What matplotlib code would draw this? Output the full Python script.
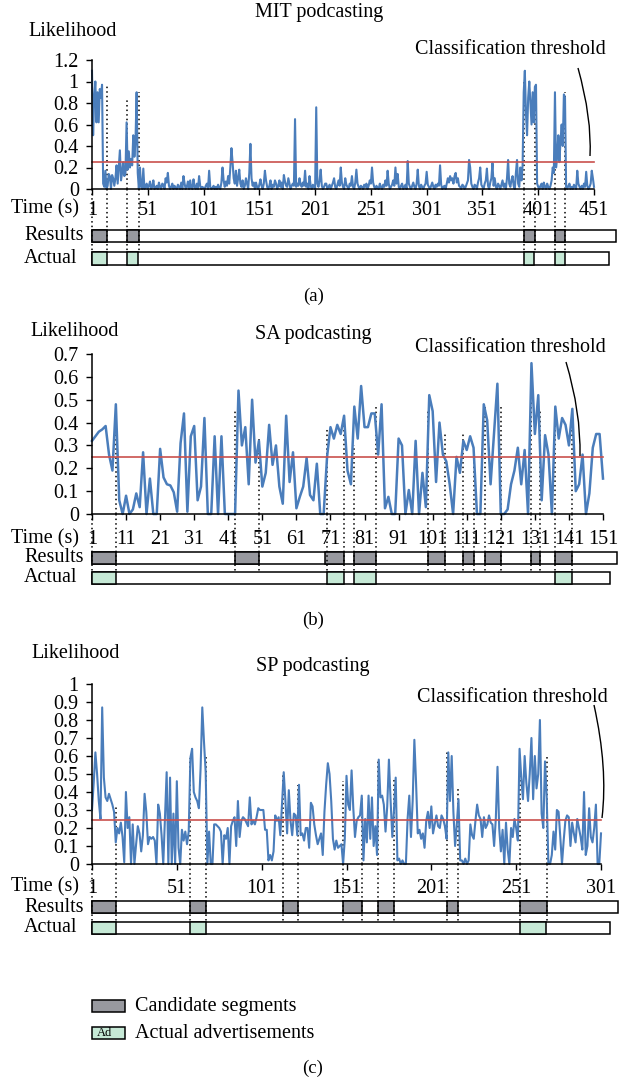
import matplotlib
matplotlib.use("Agg")
import matplotlib.pyplot as plt
from matplotlib.patches import Rectangle, PathPatch
from matplotlib.path import Path

# ------------------------------------------------------------------ data
mit_likelihood = [
    1.10, 0.50, 0.85, 1.00, 0.62, 0.90, 0.62, 0.93, 0.85, 0.97,
    0.05, 0.02, 0.17, 0.00, 0.03, 0.14, 0.12, 0.00, 0.13, 0.10,
    0.03, 0.10, 0.22, 0.05, 0.20, 0.36, 0.08, 0.15, 0.25, 0.12,
    0.15, 0.62, 0.18, 0.35, 0.20, 0.28, 0.22, 0.50, 0.30, 0.45,
    0.90, 0.15, 0.00, 0.20, 0.02, 0.00, 0.19, 0.00, 0.02, 0.05,
    0.00, 0.03, 0.07, 0.00, 0.02, 0.08, 0.00, 0.01, 0.03, 0.00,
    0.06, 0.02, 0.00, 0.05, 0.04, 0.00, 0.10, 0.06, 0.15, 0.03,
    0.00, 0.02, 0.05, 0.00, 0.03, 0.01, 0.00, 0.04, 0.02, 0.00,
    0.06, 0.00, 0.12, 0.05, 0.00, 0.02, 0.07, 0.00, 0.08, 0.01,
    0.00, 0.09, 0.02, 0.00, 0.05, 0.00, 0.12, 0.03, 0.00, 0.02,
    0.01, 0.00, 0.03, 0.05, 0.00, 0.17, 0.02, 0.00, 0.01, 0.03,
    0.00, 0.02, 0.00, 0.04, 0.01, 0.00, 0.06, 0.20, 0.08, 0.02,
    0.07, 0.03, 0.12, 0.05, 0.20, 0.38, 0.25, 0.10, 0.05, 0.17,
    0.03, 0.10, 0.18, 0.05, 0.02, 0.08, 0.00, 0.03, 0.10, 0.05,
    0.00, 0.15, 0.42, 0.10, 0.03, 0.06, 0.00, 0.06, 0.02, 0.00,
    0.04, 0.09, 0.03, 0.00, 0.05, 0.17, 0.08, 0.02, 0.00, 0.03,
    0.08, 0.00, 0.04, 0.02, 0.08, 0.05, 0.00, 0.03, 0.08, 0.02,
    0.06, 0.00, 0.13, 0.07, 0.03, 0.02, 0.10, 0.05, 0.00, 0.03,
    0.05, 0.03, 0.65, 0.02, 0.05, 0.03, 0.10, 0.04, 0.02, 0.06,
    0.03, 0.17, 0.02, 0.05, 0.00, 0.12, 0.03, 0.00, 0.04, 0.02,
    0.00, 0.76, 0.05, 0.02, 0.08, 0.18, 0.03, 0.00, 0.02, 0.05,
    0.05, 0.00, 0.02, 0.04, 0.00, 0.03, 0.06, 0.10, 0.02, 0.00,
    0.04, 0.08, 0.03, 0.20, 0.06, 0.02, 0.00, 0.10, 0.04, 0.02,
    0.00, 0.05, 0.03, 0.12, 0.02, 0.00, 0.06, 0.18, 0.05, 0.02,
    0.00, 0.03, 0.02, 0.00, 0.04, 0.02, 0.05, 0.00, 0.03, 0.08,
    0.05, 0.20, 0.06, 0.02, 0.00, 0.03, 0.01, 0.00, 0.05, 0.02,
    0.00, 0.04, 0.02, 0.08, 0.03, 0.17, 0.05, 0.00, 0.02, 0.04,
    0.08, 0.03, 0.20, 0.05, 0.14, 0.02, 0.00, 0.03, 0.05, 0.00,
    0.02, 0.04, 0.00, 0.26, 0.05, 0.02, 0.00, 0.03, 0.06, 0.02,
    0.00, 0.05, 0.18, 0.03, 0.00, 0.04, 0.02, 0.00, 0.03, 0.05,
    0.16, 0.04, 0.02, 0.00, 0.03, 0.06, 0.02, 0.00, 0.04, 0.02,
    0.05, 0.03, 0.22, 0.04, 0.00, 0.02, 0.03, 0.00, 0.05, 0.10,
    0.06, 0.12, 0.08, 0.10, 0.05, 0.12, 0.15, 0.06, 0.10, 0.03,
    0.02, 0.00, 0.04, 0.03, 0.00, 0.02, 0.05, 0.08, 0.27, 0.20,
    0.05, 0.02, 0.00, 0.04, 0.03, 0.00, 0.06, 0.10, 0.20, 0.04,
    0.02, 0.00, 0.05, 0.08, 0.19, 0.03, 0.00, 0.06, 0.10, 0.24,
    0.03, 0.10, 0.02, 0.00, 0.05, 0.03, 0.00, 0.04, 0.08, 0.02,
    0.05, 0.00, 0.10, 0.27, 0.05, 0.02, 0.08, 0.12, 0.03, 0.00,
    0.15, 0.27, 0.05, 0.02, 0.20, 0.08, 0.22, 0.90, 1.10, 0.70,
    0.50, 0.85, 1.00, 0.80, 0.60, 0.90, 0.62, 0.95, 0.97, 0.05,
    0.02, 0.00, 0.03, 0.05, 0.00, 0.06, 0.02, 0.00, 0.05, 0.02,
    0.00, 0.03, 0.08, 0.20, 0.15, 0.90, 0.20, 0.30, 0.50, 0.25,
    0.45, 0.60, 0.40, 0.88, 0.85, 0.02, 0.00, 0.03, 0.05, 0.00,
    0.02, 0.00, 0.04, 0.02, 0.00, 0.17, 0.05, 0.02, 0.00, 0.03,
    0.00, 0.05, 0.02, 0.16, 0.03, 0.00, 0.02, 0.05, 0.17, 0.10,
    0.02,
]
sa_likelihood = [
    0.32, 0.34, 0.36, 0.37, 0.385, 0.26, 0.19, 0.48, 0.06, 0.00,
    0.08, 0.00, 0.02, 0.09, 0.03, 0.27, 0.00, 0.155, 0.00, 0.00,
    0.285, 0.16, 0.13, 0.125, 0.095, 0.01, 0.31, 0.44, 0.01, 0.34,
    0.385, 0.06, 0.12, 0.42, 0.00, 0.00, 0.34, 0.00, 0.34, 0.00,
    0.00, 0.00, 0.00, 0.54, 0.30, 0.38, 0.13, 0.50, 0.225, 0.32,
    0.12, 0.18, 0.39, 0.215, 0.30, 0.12, 0.045, 0.43, 0.14, 0.27,
    0.025, 0.075, 0.12, 0.245, 0.083, 0.06, 0.22, 0.00, 0.00, 0.25,
    0.38, 0.33, 0.39, 0.35, 0.43, 0.19, 0.13, 0.47, 0.33, 0.56,
    0.38, 0.38, 0.44, 0.44, 0.26, 0.48, 0.025, 0.075, 0.00, 0.00,
    0.33, 0.30, 0.00, 0.105, 0.00, 0.32, 0.00, 0.18, 0.03, 0.52,
    0.45, 0.14, 0.40, 0.26, 0.23, 0.13, 0.00, 0.25, 0.18, 0.32,
    0.28, 0.34, 0.29, 0.00, 0.00, 0.48, 0.41, 0.13, 0.35, 0.57,
    0.00, 0.00, 0.02, 0.13, 0.19, 0.29, 0.13, 0.28, 0.00, 0.66,
    0.35, 0.52, 0.06, 0.345, 0.26, 0.00, 0.47, 0.33, 0.42, 0.39,
    0.30, 0.46, 0.10, 0.13, 0.26, 0.00, 0.09, 0.29, 0.35, 0.35,
    0.155,
]
sp_likelihood = [
    0.30, 0.45, 0.62, 0.50, 0.35, 0.25, 0.87, 0.48, 0.37, 0.35,
    0.39, 0.36, 0.33, 0.29, 0.12, 0.20, 0.17, 0.23, 0.15, 0.01,
    0.40, 0.20, 0.26, 0.00, 0.22, 0.00, 0.11, 0.21, 0.17, 0.07,
    0.16, 0.39, 0.29, 0.11, 0.15, 0.14, 0.15, 0.13, 0.00, 0.33,
    0.28, 0.16, 0.00, 0.26, 0.51, 0.00, 0.48, 0.00, 0.28, 0.00,
    0.46, 0.09, 0.00, 0.19, 0.13, 0.18, 0.11, 0.18, 0.59, 0.64,
    0.40, 0.37, 0.35, 0.31, 0.53, 0.87, 0.68, 0.51, 0.00, 0.18,
    0.00, 0.00, 0.22, 0.22, 0.21, 0.20, 0.18, 0.00, 0.16, 0.14,
    0.20, 0.00, 0.21, 0.24, 0.26, 0.10, 0.35, 0.15, 0.24, 0.26,
    0.25, 0.23, 0.21, 0.37, 0.22, 0.24, 0.22, 0.26, 0.31, 0.30,
    0.30, 0.30, 0.19, 0.19, 0.02, 0.05, 0.02, 0.07, 0.27, 0.24,
    0.26, 0.16, 0.33, 0.51, 0.35, 0.17, 0.41, 0.24, 0.16, 0.28,
    0.27, 0.16, 0.44, 0.16, 0.17, 0.13, 0.20, 0.20, 0.09, 0.34,
    0.32, 0.22, 0.16, 0.11, 0.14, 0.17, 0.05, 0.29, 0.44, 0.56,
    0.50, 0.35, 0.14, 0.08, 0.13, 0.09, 0.10, 0.11, 0.00, 0.14,
    0.49, 0.33, 0.30, 0.52, 0.31, 0.15, 0.24, 0.26, 0.27, 0.38,
    0.02, 0.25, 0.12, 0.38, 0.14, 0.37, 0.10, 0.21, 0.05, 0.58,
    0.37, 0.38, 0.33, 0.18, 0.32, 0.58, 0.35, 0.15, 0.30, 0.48,
    0.02, 0.03, 0.00, 0.02, 0.00, 0.00, 0.25, 0.38, 0.15, 0.35,
    0.69, 0.45, 0.17, 0.19, 0.14, 0.17, 0.09, 0.24, 0.29, 0.20,
    0.32, 0.17, 0.22, 0.27, 0.21, 0.20, 0.27, 0.25, 0.21, 0.14,
    0.62, 0.35, 0.60, 0.29, 0.10, 0.22, 0.36, 0.02, 0.02, 0.00,
    0.03, 0.00, 0.02, 0.22, 0.16, 0.14, 0.24, 0.33, 0.27, 0.25,
    0.15, 0.26, 0.20, 0.22, 0.27, 0.23, 0.22, 0.10, 0.25, 0.54,
    0.20, 0.07, 0.19, 0.00, 0.23, 0.08, 0.00, 0.20, 0.15, 0.25,
    0.20, 0.13, 0.64, 0.48, 0.36, 0.60, 0.45, 0.35, 0.50, 0.70,
    0.36, 0.60, 0.42, 0.50, 0.80, 0.28, 0.20, 0.57, 0.37, 0.00,
    0.00, 0.05, 0.18, 0.08, 0.30, 0.29, 0.15, 0.00, 0.13, 0.24,
    0.27, 0.26, 0.10, 0.23, 0.17, 0.12, 0.25, 0.20, 0.15, 0.08,
    0.40, 0.05, 0.10, 0.31, 0.15, 0.12, 0.20, 0.33, 0.00, 0.00,
    0.17,
]

mit_threshold = 0.25
sa_threshold = 0.25
sp_threshold = 0.245

# candidate segments (Results) and actual advertisements, in seconds
mit_results = [(1, 14), (32, 43), (388, 398.5), (416, 425)]
mit_actual = [(1, 14), (32, 42.5), (388, 397), (416, 425)]
sa_results = [(1, 8), (43, 50), (69.5, 75), (78, 84.5), (99.5, 104.5),
              (110, 113), (116.5, 121), (130, 132.5), (137, 142)]
sa_actual = [(1, 8), (70, 75), (78, 84.5), (137, 142)]
sp_results = [(1, 15), (59, 68), (113.5, 122.5), (149, 160), (169.5, 179),
              (210.5, 217), (253, 269)]
sp_actual = [(1, 15), (59, 68), (253, 268.5)]

# dotted guide lines: time and the likelihood where they start
mit_guides = [1, 14, 32, 43, 388, 398.5, 416, 425]
mit_guide_tops = [0, 0.97, 0.85, 0.90, 1.0, 0.97, 0.90, 0.90]
sa_guides = [1, 8, 43, 50, 70, 75, 78, 84.5, 99.5, 104.5, 110, 113, 116.5,
             121, 130, 132.5, 137, 142]
sa_guide_tops = [0, 0.45, 0.46, 0.33, 0.38, 0.40, 0.30, 0.47, 0.46, 0.36,
                 0.35, 0.27, 0.47, 0.47, 0.49, 0.46, 0.45, 0.46]
sp_guides = [1, 15, 59, 68, 113.5, 122.5, 149, 160, 169.5, 179, 210.5, 217,
             253, 269]
sp_guide_tops = [0, 0.32, 0.59, 0.61, 0.50, 0.44, 0.46, 0.37, 0.58, 0.48,
                 0.63, 0.43, 0.60, 0.61]

mit_xticks = [1, 51, 101, 151, 201, 251, 301, 351, 401, 451]
sa_xticks = [1, 11, 21, 31, 41, 51, 61, 71, 81, 91, 101, 111, 121, 131, 141, 151]
sp_xticks = [1, 51, 101, 151, 201, 251, 301]
mit_yticks = [0, 0.2, 0.4, 0.6, 0.8, 1.0, 1.2]
mit_ylabels = ["0", "0.2", "0.4", "0.6", "0.8", "1", "1.2"]
sa_yticks = [0, 0.1, 0.2, 0.3, 0.4, 0.5, 0.6, 0.7]
sa_ylabels = ["0", "0.1", "0.2", "0.3", "0.4", "0.5", "0.6", "0.7"]
sp_yticks = [0, 0.1, 0.2, 0.3, 0.4, 0.5, 0.6, 0.7, 0.8, 0.9, 1.0]
sp_ylabels = ["0", "0.1", "0.2", "0.3", "0.4", "0.5", "0.6", "0.7", "0.8", "0.9", "1"]

titles = ["MIT podcasting", "SA podcasting", "SP podcasting"]
panel_tags = ["(a)", "(b)", "(c)"]
legend_labels = ["Candidate segments", "Actual advertisements"]

# ------------------------------------------------------------------ style
W, H = 629, 1080
plt.rcParams["font.family"] = ["Liberation Serif", "DejaVu Serif"]
FS = 14.5
BLUE = "#4a7dbb"
RED = "#c9504d"
GRAY = "#98999f"
GREEN = "#c6e9d6"

fig = plt.figure(figsize=(W / 100, H / 100), dpi=100)


def fx(px):
    return px / W


def fy(py):
    return 1 - py / H


def axes_px(l, t, r, b):
    return fig.add_axes([l / W, 1 - b / H, (r - l) / W, (b - t) / H])


layouts = [
    dict(L=92, R=594, T=60, B=189, ymax=1.2, lw=1.5, xpad=4.3,
         title=(319, 13), like=(28, 31), cls=(606, 50), tick_y=208,
         res=(230, 242), act=(252, 265), res_end=616, act_end=609,
         tag=(314, 296), curve=((578, 68), (592, 118), (590, 156))),
    dict(L=92, R=603, T=354, B=514, ymax=0.7, lw=1.8, xpad=7.7,
         title=(313, 335), like=(30, 332), cls=(606, 347), tick_y=538,
         res=(552, 564), act=(572, 584), res_end=617, act_end=610,
         tag=(313, 620), curve=((566, 362), (581, 412), (580, 456))),
    dict(L=92, R=601, T=684, B=864, ymax=1.0, lw=1.5, xpad=6.5,
         title=(313, 667), like=(31, 653), cls=(608, 698), tick_y=886,
         res=(901, 913), act=(922, 934), res_end=618, act_end=610,
         tag=(313, 1068), curve=((594, 705), (608, 768), (602, 818))),
]

series = [mit_likelihood, sa_likelihood, sp_likelihood]
thresholds = [mit_threshold, sa_threshold, sp_threshold]
results = [mit_results, sa_results, sp_results]
actuals = [mit_actual, sa_actual, sp_actual]
guides = [mit_guides, sa_guides, sp_guides]
guide_tops = [mit_guide_tops, sa_guide_tops, sp_guide_tops]
xticks = [mit_xticks, sa_xticks, sp_xticks]
yticks = [mit_yticks, sa_yticks, sp_yticks]
ylabels = [mit_ylabels, sa_ylabels, sp_ylabels]

for i, lay in enumerate(layouts):
    vals = series[i]
    times = list(range(1, len(vals) + 1))
    x0, x1 = 1, len(vals)
    ax = axes_px(lay["L"], lay["T"], lay["R"], lay["B"])
    ax.set_xlim(x0, x1)
    ax.set_ylim(0, lay["ymax"])
    ax.patch.set_alpha(0)
    ax.plot(times, vals, color=BLUE, lw=lay["lw"], clip_on=False, zorder=3,
            solid_joinstyle="round")
    ax.plot([x0, x1], [thresholds[i]] * 2, color=RED, lw=1.2, zorder=4,
            clip_on=False)
    ax.vlines(guides[i], 0, guide_tops[i], colors="black", linestyles=(0, (1, 2)),
              lw=1.1, zorder=2, clip_on=False)
    for s in ("top", "right"):
        ax.spines[s].set_visible(False)
    for s in ("left", "bottom"):
        ax.spines[s].set_linewidth(1.1)
        ax.spines[s].set_zorder(5)
    ax.set_yticks(yticks[i])
    ax.set_yticklabels(ylabels[i], fontsize=FS)
    ax.set_xticks(xticks[i])
    ax.set_xticklabels([str(t) for t in xticks[i]], fontsize=FS)
    ax.tick_params(axis="y", direction="out", length=4, width=1, pad=5.5)
    ax.tick_params(axis="x", direction="out", length=4, width=1, pad=lay["xpad"])

    # bar strip below the chart (y measured in pixels, downwards)
    bx = axes_px(lay["L"], lay["B"], lay["R"], lay["act"][1])
    bx.set_xlim(x0, x1)
    bx.set_ylim(lay["act"][1], lay["B"])
    bx.axis("off")

    def px2t(px):
        return x0 + (px - lay["L"]) / (lay["R"] - lay["L"]) * (x1 - x0)

    for (top, bot), end_px, segs, col in (
            (lay["res"], lay["res_end"], results[i], GRAY),
            (lay["act"], lay["act_end"], actuals[i], GREEN)):
        bx.add_patch(Rectangle((x0, top), px2t(end_px) - x0, bot - top,
                               facecolor="white", edgecolor="black", lw=1.1,
                               clip_on=False, zorder=2))
        for a, b in segs:
            bx.add_patch(Rectangle((a, top), b - a, bot - top, facecolor=col,
                                   edgecolor="black", lw=1.1, clip_on=False,
                                   zorder=3))
    bx.vlines(guides[i], lay["B"], lay["act"][0], colors="black",
              linestyles=(0, (1, 2)), lw=1.1, zorder=4, clip_on=False)

    # texts
    fig.text(fx(lay["title"][0]), fy(lay["title"][1]), titles[i], fontsize=FS,
             ha="center", va="center")
    fig.text(fx(lay["like"][0]), fy(lay["like"][1]), "Likelihood", fontsize=FS,
             ha="left", va="center")
    fig.text(fx(lay["cls"][0]), fy(lay["cls"][1]), "Classification threshold",
             fontsize=FS, ha="right", va="center")
    fig.text(fx(11), fy(lay["tick_y"] - 9), "Time (s)", fontsize=FS, ha="left",
             va="top")
    fig.text(fx(24), fy(sum(lay["res"]) / 2), "Results", fontsize=FS,
             ha="left", va="center")
    fig.text(fx(24), fy(sum(lay["act"]) / 2), "Actual", fontsize=FS,
             ha="left", va="center")
    fig.text(fx(lay["tag"][0]), fy(lay["tag"][1]), panel_tags[i], fontsize=FS - 1,
             ha="center", va="center")

    # annotation curve to the threshold line
    p0, pc, p1 = lay["curve"]
    path = Path([(fx(p0[0]), fy(p0[1])), (fx(pc[0]), fy(pc[1])),
                 (fx(p1[0]), fy(p1[1]))],
                [Path.MOVETO, Path.CURVE3, Path.CURVE3])
    fig.add_artist(PathPatch(path, facecolor="none", edgecolor="black", lw=1.0,
                             transform=fig.transFigure))

# legend
for (top, bot), col, label in (((1000, 1012), GRAY, legend_labels[0]),
                               ((1027, 1039), GREEN, legend_labels[1])):
    fig.add_artist(Rectangle((fx(92), fy(bot)), fx(125) - fx(92),
                             fy(top) - fy(bot), facecolor=col,
                             edgecolor="black", lw=1.1,
                             transform=fig.transFigure))
    fig.text(fx(135), fy((top + bot) / 2), label, fontsize=FS, ha="left",
             va="center")
fig.text(fx(97), fy(1033), "Ad", fontsize=9, ha="left", va="center")

fig.savefig("out.png", dpi=100)
